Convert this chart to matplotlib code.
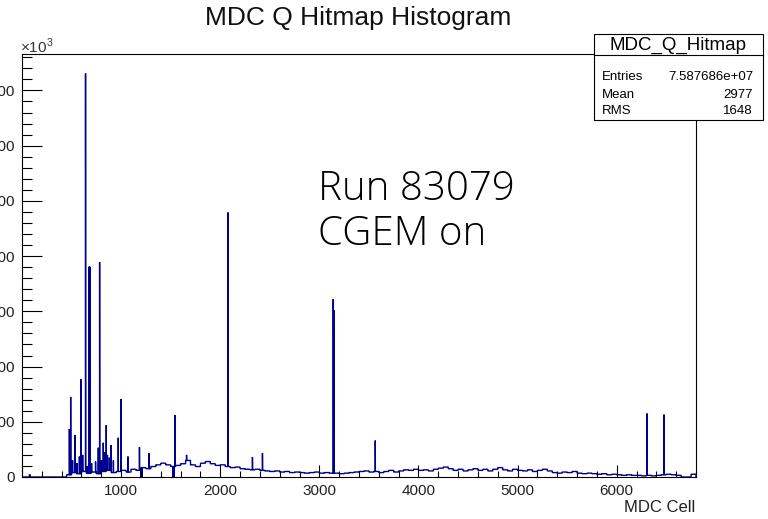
import numpy as np
import matplotlib
matplotlib.use("Agg")
from matplotlib import pyplot as plt
from matplotlib.ticker import MultipleLocator, FuncFormatter
from matplotlib.patches import Rectangle

plt.rcParams['font.family'] = ['Liberation Sans', 'DejaVu Sans']
plt.rcParams['mathtext.fontset'] = 'custom'
plt.rcParams['mathtext.rm'] = 'Liberation Sans'

n_cells = 6800

# smooth part of the hitmap, one value (x10^3) per 50-cell block
base_start = list(range(450, 6800, 50))
base_vals = [4, 8, 6, 10, 7, 9, 6, 10, 12, 8, 10, 12, 9, 14, 12, 17, 15, 19, 22, 25,
             22, 19, 21, 24, 30, 22, 19, 25, 28, 24, 21, 22, 19, 17, 18, 15, 14, 13, 14, 12,
             11, 10, 11, 9, 10, 8, 9, 8, 7, 8, 9, 7, 8, 7, 7, 6, 7, 8, 9, 10,
             11, 9, 10, 8, 10, 12, 9, 11, 13, 12, 14, 12, 13, 11, 14, 16, 18, 15, 12, 14,
             11, 13, 15, 12, 14, 11, 14, 17, 13, 11, 14, 12, 11, 13, 10, 12, 14, 11, 8, 7,
             9, 8, 10, 7, 6, 7, 6, 5, 6, 4, 5, 4, 3, 4, 3, 3, 2, 3, 2, 3,
             4, 5, 4, 3, 0, 0, 5]

# hot cells (cell, counts x10^3)
spike_cells = [76, 78, 478, 491, 510, 535, 555, 579, 594, 612, 641, 657, 677, 680, 684,
               702, 742, 769, 783, 802, 820, 832, 850, 862, 882, 897, 922, 971, 998,
               1069, 1185, 1282, 1543, 1660, 2079, 2325, 2426, 3140, 3150, 3564, 6305, 6477]
spike_vals = [5, 4, 87, 145, 30, 76, 25, 37, 177, 40, 731, 20, 381, 378, 381,
              25, 28, 53, 389, 30, 62, 45, 94, 40, 35, 58, 30, 71, 141,
              37, 54, 43, 112, 40, 479, 36, 43, 322, 302, 66, 115, 113]

# dead cells
dead_cells = [1200, 1210, 1525, 1535]

counts = np.zeros(n_cells)
for s, v in zip(base_start, base_vals):
    counts[s:s + 50] = v * 1e3
for c, v in zip(spike_cells, spike_vals):
    counts[c] = v * 1e3
for c in dead_cells:
    counts[c] = 0

fig = plt.figure(figsize=(7.68, 5.19), dpi=100)
W, H = 768.0, 519.0
ax = fig.add_axes([22 / W, 1 - 477 / H, (696 - 22) / W, (477 - 54) / H])

ax.stairs(counts, np.arange(n_cells + 1), color='#00008f', linewidth=1.0)

ax.set_xlim(0, n_cells)
ax.set_ylim(0, 766e3)

ax.xaxis.set_major_locator(MultipleLocator(1000))
ax.xaxis.set_minor_locator(MultipleLocator(200))
ax.yaxis.set_major_locator(MultipleLocator(100e3))
ax.yaxis.set_minor_locator(MultipleLocator(20e3))
ax.xaxis.set_major_formatter(FuncFormatter(lambda v, p: "" if v == 0 else "%d" % v))
ax.yaxis.set_major_formatter(FuncFormatter(lambda v, p: "%d" % round(v / 1e3)))

ax.tick_params(axis='x', which='major', direction='in', length=9, width=0.8,
               labelsize=11, pad=5, labelcolor='#222222')
ax.tick_params(axis='x', which='minor', direction='in', length=4.3, width=0.8)
ax.tick_params(axis='y', which='major', direction='in', length=14.4, width=0.8,
               labelsize=11, pad=5, labelcolor='#222222')
ax.tick_params(axis='y', which='minor', direction='in', length=7.2, width=0.8)
for sp in ax.spines.values():
    sp.set_linewidth(0.8)

fig.text(358.5 / W, 1 - 18 / H, "MDC Q Hitmap Histogram", ha='center', va='center',
         fontsize=19, color='#111111')
fig.text(20 / W, 1 - 46 / H, r"$\times10^{3}$", ha='left', va='center', fontsize=11,
         color='#333333')
fig.text(695 / W, 1 - 507 / H, "MDC Cell", ha='right', va='center', fontsize=12,
         color='#222222')

# stats box
fig.patches.append(Rectangle((594 / W, 1 - 119.5 / H), (763 - 594) / W, (119.5 - 34) / H,
                             transform=fig.transFigure, facecolor='white',
                             edgecolor='black', linewidth=0.8, zorder=5))
fig.add_artist(plt.Line2D([594 / W, 763 / W], [1 - 55 / H, 1 - 55 / H],
                          transform=fig.transFigure, color='black', linewidth=0.8, zorder=6))
fig.text(678 / W, 1 - 45 / H, "MDC_Q_Hitmap", ha='center', va='center', fontsize=13.5,
         zorder=7)
stat_names = ["Entries", "Mean", "RMS"]
stat_vals = ["7.587686e+07", "2977", "1648"]
for i, (nm, val) in enumerate(zip(stat_names, stat_vals)):
    y = [77, 95, 111][i]
    fig.text(602 / W, 1 - y / H, nm, ha='left', va='center', fontsize=9.5, zorder=7)
    fig.text(753 / W, 1 - y / H, val, ha='right', va='center', fontsize=9.5, zorder=7)

fig.text(318 / W, 1 - 200 / H, "Run 83079", ha='left', va='baseline', fontsize=29,
         family=['Open Sans', 'DejaVu Sans'], fontweight='light')
fig.text(318 / W, 1 - 245 / H, "CGEM on", ha='left', va='baseline', fontsize=29,
         family=['Open Sans', 'DejaVu Sans'], fontweight='light')

fig.savefig("out.png", dpi=100)
